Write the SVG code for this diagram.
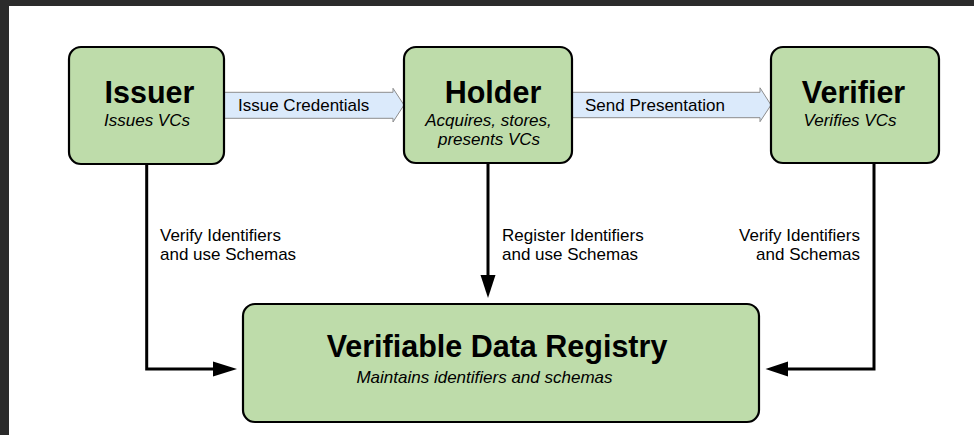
<svg xmlns="http://www.w3.org/2000/svg" width="974" height="435" viewBox="0 0 974 435">
  <style>
    .node { fill: #bedcaa; stroke: #000; stroke-width: 2.2; }
    .title { font-family: "Liberation Sans", Arial, sans-serif; font-weight: bold; font-size: 30.5px; fill: #000; text-anchor: middle; }
    .sub { font-family: "Liberation Sans", Arial, sans-serif; font-style: italic; font-size: 17px; fill: #000; text-anchor: middle; }
    .label { font-family: "Liberation Sans", Arial, sans-serif; font-size: 17px; fill: #000; }
    .flow { fill: #dbeafb; stroke: #8c8c8c; stroke-width: 1; }
    .link { fill: none; stroke: #000; stroke-width: 3; }
    .head { fill: #000; }
  </style>

  <!-- page background with dark window frame -->
  <rect x="0" y="0" width="974" height="435" fill="#2b2b2b"/>
  <rect x="9" y="6" width="965" height="429" fill="#ffffff"/>

  <g id="connectors">
    <!-- wide flow arrows between the top row -->
    <path class="flow" d="M220,92.3 H393 V88.3 L404,105 L393,122 V118.3 H220 Z"/>
    <text class="label" x="238" y="111">Issue Credentials</text>
    <path class="flow" d="M568,92.3 H760 V87.8 L771,105 L760,121.7 V117.7 H568 Z"/>
    <text class="label" x="585" y="111">Send Presentation</text>

    <!-- Issuer to registry -->
    <path class="link" d="M146.7,164 V369 H215"/>
    <path class="head" d="M213,361.5 L237,369 L213,376.5 Z"/>
    <text class="label" x="160" y="240.5">Verify Identifiers</text>
    <text class="label" x="160" y="259.5">and use Schemas</text>

    <!-- Holder to registry -->
    <path class="link" d="M488,163 V278"/>
    <path class="head" d="M480.5,275 L488,298 L495.5,275 Z"/>
    <text class="label" x="502" y="240.5">Register Identifiers</text>
    <text class="label" x="502" y="259.5">and use Schemas</text>

    <!-- Verifier to registry -->
    <path class="link" d="M874,163 V369 H786"/>
    <path class="head" d="M788,361.5 L765.5,369 L788,376.5 Z"/>
    <text class="label" x="860" y="240.5" text-anchor="end">Verify Identifiers</text>
    <text class="label" x="860" y="259.5" text-anchor="end">and Schemas</text>
  </g>

  <g id="issuer">
    <rect class="node" x="69" y="47" width="155" height="117" rx="12"/>
    <text class="title" x="149.5" y="103">Issuer</text>
    <text class="sub" x="147" y="125.5">Issues VCs</text>
  </g>

  <g id="holder">
    <rect class="node" x="404" y="47" width="168" height="116" rx="12"/>
    <text class="title" x="493" y="103">Holder</text>
    <text class="sub" x="488.5" y="125.5">Acquires, stores,</text>
    <text class="sub" x="489" y="144.5">presents VCs</text>
  </g>

  <g id="verifier">
    <rect class="node" x="771" y="47" width="168" height="116" rx="12"/>
    <text class="title" x="853.5" y="103">Verifier</text>
    <text class="sub" x="850" y="125.5">Verifies VCs</text>
  </g>

  <g id="registry">
    <rect class="node" x="243" y="304" width="516" height="118" rx="12"/>
    <text class="title" x="497" y="357">Verifiable Data Registry</text>
    <text class="sub" x="484.5" y="383">Maintains identifiers and schemas</text>
  </g>
</svg>
